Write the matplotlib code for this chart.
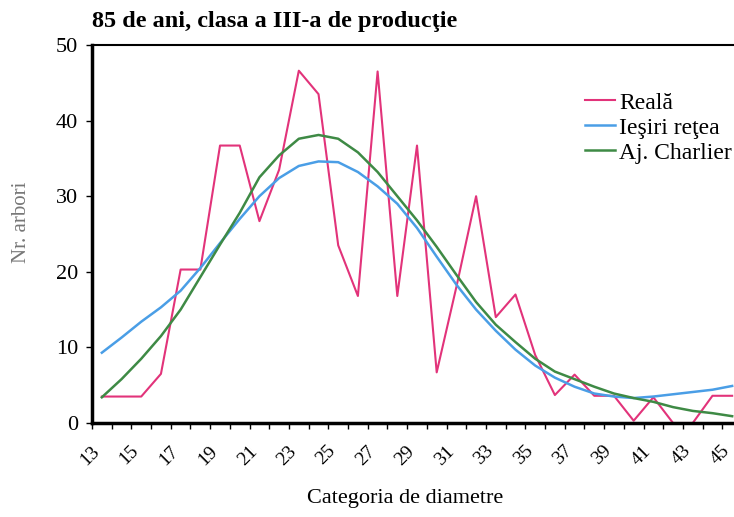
import numpy as np
import matplotlib.pyplot as plt
from matplotlib.transforms import ScaledTranslation

# categorii de diametru
categorii = list(range(13, 46))

reala = [3.5, 3.5, 3.5, 6.5, 20.3, 20.3, 36.7, 36.7, 26.7, 33.5, 46.6, 43.5, 23.5,
         16.8, 46.5, 16.8, 36.7, 6.7, 18, 30, 14, 17, 9, 3.7, 6.4, 3.6, 3.6, 0.3,
         3.4, 0, 0, 3.6, 3.6]
iesiri_retea = [9.3, 11.3, 13.4, 15.3, 17.5, 20.5, 23.8, 27, 30, 32.4, 34, 34.6, 34.5,
                33.2, 31.3, 29, 25.8, 22, 18.3, 15, 12.2, 9.7, 7.6, 6, 4.8, 3.9, 3.5,
                3.3, 3.5, 3.8, 4.1, 4.4, 4.9]
charlier = [3.4, 5.8, 8.5, 11.5, 15, 19.3, 23.6, 27.8, 32.5, 35.4, 37.6, 38.1, 37.6,
            35.8, 33.2, 30, 26.8, 23.3, 19.6, 16, 13, 10.7, 8.5, 6.8, 5.8, 4.8, 3.9,
            3.3, 2.8, 2.1, 1.6, 1.3, 0.9]

serif = ['Liberation Serif', 'DejaVu Serif']
plt.rcParams['font.family'] = serif

fig = plt.figure(figsize=(7.34, 5.17), dpi=100)
ax = fig.add_axes([92 / 734, 94 / 517, 650 / 734, 378 / 517])

ax.plot(categorii, reala, color='#E2337A', lw=1.5, label='Reală')
ax.plot(categorii, iesiri_retea, color='#4A9EE6', lw=1.8, label='Ieşiri reţea')
ax.plot(categorii, charlier, color='#3E8A45', lw=1.8, label='Aj. Charlier')

ax.set_xlim(12.5, 45.5)
ax.set_ylim(0, 50)

# etichete la fiecare a doua categorie, gradatii la limitele categoriilor
ax.set_xticks(categorii[::2])
ax.set_xticklabels([str(c) for c in categorii[::2]], rotation=45, ha='right', va='top',
                   rotation_mode='anchor', fontsize=14)
ax.tick_params(axis='x', length=0, pad=14)
off = ScaledTranslation(-11 / 100, 0, fig.dpi_scale_trans)
for lab in ax.get_xticklabels():
    lab.set_transform(lab.get_transform() + off)
ax.set_xticks(np.arange(12.5, 46, 1), minor=True)
ax.tick_params(axis='x', which='minor', length=4, width=1, direction='out')

ax.set_yticks([0, 10, 20, 30, 40, 50])
ax.tick_params(axis='y', length=4, width=1, labelsize=16, pad=6)

for s in ['left', 'bottom']:
    ax.spines[s].set_linewidth(2.5)
ax.spines['top'].set_linewidth(1.5)
ax.spines['right'].set_visible(False)

ax.set_xlabel('Categoria de diametre', fontsize=16)
ax.xaxis.set_label_coords((405 - 92) / 650, -(499 - 423) / 378)
ax.xaxis.label.set_va('center')
ax.set_ylabel('Nr. arbori', fontsize=15, color='#777777')
ax.yaxis.set_label_coords(-(92 - 22) / 650, (423 - 222) / 378)
ax.yaxis.label.set_va('center')

fig.text(92 / 734, 1 - 22 / 517, '85 de ani, clasa a III-a de producţie',
         fontsize=17.5, fontweight='bold', va='center', ha='left')

ax.legend(loc='upper left', bbox_to_anchor=(585 / 734, 1 - 92 / 517),
          bbox_transform=fig.transFigure, frameon=False, fontsize=17,
          handlelength=1.25, handletextpad=0.2, labelspacing=0.15, borderpad=0,
          borderaxespad=0)

fig.savefig('out.png', dpi=100)
